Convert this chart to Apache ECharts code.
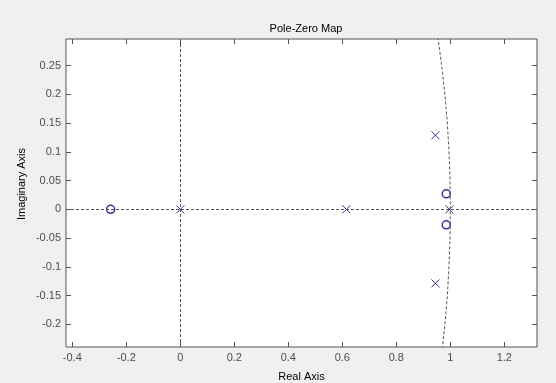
<!DOCTYPE html>
<html><head><meta charset="utf-8">
<script src="https://cdn.jsdelivr.net/npm/echarts@6/dist/echarts.min.js"></script>
<style>html,body{margin:0;padding:0;background:#f0f0f0}#c{width:556px;height:383px}</style>
</head><body><div id="c"></div>
<script>
// Data
const poles = [[0, 0], [0.615, 0], [0.945, 0.129], [0.945, -0.129], [0.997, 0]];
const zeros = [[-0.258, 0], [0.985, 0.027], [0.985, -0.027]];
// unit-circle grid arc (as drawn in the picture)
const arcPts = [[0.954, 0.30], [0.968, 0.25], [0.980, 0.20], [0.989, 0.15], [0.995, 0.10], [0.999, 0.05], [1.0, 0],
  [0.999, -0.05], [0.995, -0.10], [0.989, -0.15], [0.980, -0.20], [0.971, -0.24]];
const xTicks = [-0.4, -0.2, 0, 0.2, 0.4, 0.6, 0.8, 1, 1.2];
const yTicks = [-0.2, -0.15, -0.1, -0.05, 0, 0.05, 0.1, 0.15, 0.2, 0.25];
const xRange = [-0.4233, 1.321];
const yRange = [-0.2397, 0.2965];

const font = 'Liberation Sans, Arial, sans-serif';
const frame = '#555555';
const mark = '#000080';
function fmt(v) { return String(v); }

const baseX = { type: 'value', min: xRange[0], max: xRange[1], axisLine: { show: false, onZero: false }, splitLine: { show: false },
  axisTick: { show: true, inside: true, length: 5, customValues: xTicks, lineStyle: { color: frame } } };
const baseY = { type: 'value', min: yRange[0], max: yRange[1], axisLine: { show: false, onZero: false }, splitLine: { show: false },
  axisTick: { show: true, inside: true, length: 5, customValues: yTicks, lineStyle: { color: frame } } };

const chart = echarts.init(document.getElementById('c'), null, { renderer: 'canvas' });
chart.setOption({
  backgroundColor: '#f0f0f0', animation: false,
  title: { text: 'Pole-Zero Map', left: 301, textAlign: 'center', top: 18,
    textStyle: { fontFamily: font, fontSize: 11, fontWeight: 'normal', color: '#000' } },
  graphic: [{ type: 'text', x: 22, y: 184, rotation: Math.PI / 2,
    style: { text: 'Imaginary Axis', fontFamily: font, fontSize: 11, fill: '#000', align: 'center', verticalAlign: 'middle' } }],
  grid: { left: 66, top: 39, width: 471, height: 308, containLabel: false, outerBoundsMode: 'none',
    show: true, backgroundColor: '#ffffff', borderColor: frame, borderWidth: 1 },
  xAxis: [
    Object.assign({}, baseX, { position: 'bottom', name: 'Real Axis', nameLocation: 'middle', nameGap: 24,
      nameTextStyle: { fontFamily: font, fontSize: 11, color: '#000' },
      axisLabel: { show: true, customValues: xTicks, margin: 5, formatter: fmt, fontFamily: font, fontSize: 11, color: '#4d4d4d' } }),
    Object.assign({}, baseX, { position: 'top', axisLabel: { show: false } })
  ],
  yAxis: [
    Object.assign({}, baseY, { position: 'left',
      axisLabel: { show: true, customValues: yTicks, margin: 5, formatter: fmt, fontFamily: font, fontSize: 11, color: '#4d4d4d' } }),
    Object.assign({}, baseY, { position: 'right', axisLabel: { show: false } })
  ],
  series: [
    { type: 'line', data: arcPts, showSymbol: false, symbol: 'none', silent: true, lineStyle: { color: '#555', width: 1, type: [3, 2] },
      markLine: { silent: true, symbol: 'none', label: { show: false }, lineStyle: { color: '#555', width: 1, type: [3, 2] },
        data: [{ xAxis: 0 }, { yAxis: 0 }] } },
    { type: 'scatter', data: poles, symbol: 'path://M0,0L10,10M10,0L0,10', symbolSize: 8,
      itemStyle: { color: 'rgba(0,0,0,0)', borderColor: mark, borderWidth: 1 } },
    { type: 'scatter', data: zeros, symbol: 'circle', symbolSize: 8,
      itemStyle: { color: 'rgba(0,0,0,0)', borderColor: mark, borderWidth: 1.5 } }
  ]
});
</script></body></html>
